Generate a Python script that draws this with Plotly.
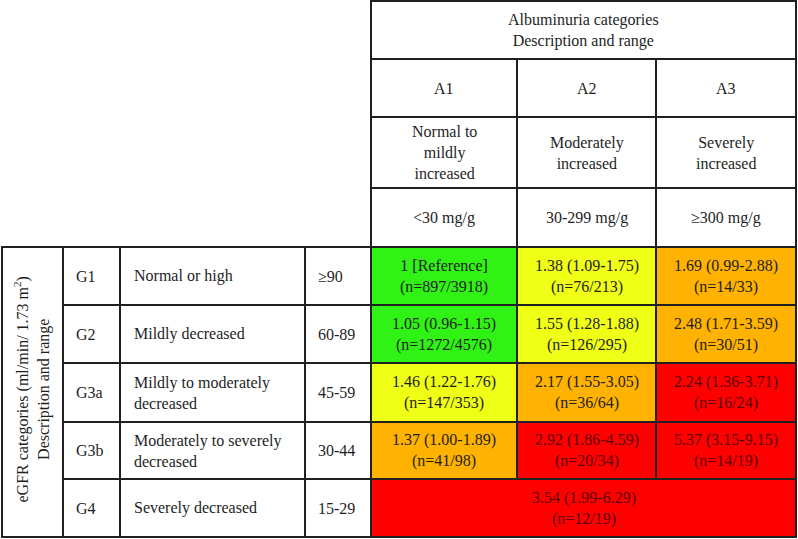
import plotly.graph_objects as go

# ---------------- data ----------------
egfr_codes = ["G1", "G2", "G3a", "G3b", "G4"]
egfr_desc = ["Normal or high", "Mildly decreased", "Mildly to moderately<br>decreased",
             "Moderately to severely<br>decreased", "Severely decreased"]
egfr_range = ["≥90", "60-89", "45-59", "30-44", "15-29"]

alb_codes = ["A1", "A2", "A3"]
alb_desc = ["Normal to<br>mildly<br>increased", "Moderately<br>increased", "Severely<br>increased"]
alb_range = ["<30 mg/g", "30-299 mg/g", "≥300 mg/g"]

# odds ratios, CI, events/totals per eGFR row (G4 is one merged cell)
or_est = [[1.00, 1.38, 1.69], [1.05, 1.55, 2.48], [1.46, 2.17, 2.24], [1.37, 2.92, 5.37], [3.54]]
ci_low = [[None, 1.09, 0.99], [0.96, 1.28, 1.71], [1.22, 1.55, 1.36], [1.00, 1.86, 3.15], [1.99]]
ci_high = [[None, 1.75, 2.88], [1.15, 1.88, 3.59], [1.76, 3.05, 3.71], [1.89, 4.59, 9.15], [6.29]]
events = [[897, 76, 14], [1272, 126, 30], [147, 36, 16], [41, 20, 14], [12]]
totals = [[3918, 213, 33], [4576, 295, 51], [353, 64, 24], [98, 34, 19], [19]]
risk = [["low", "moderate", "high"], ["low", "moderate", "high"],
        ["moderate", "high", "veryhigh"], ["high", "veryhigh", "veryhigh"], ["veryhigh"]]

header_title = "Albuminuria categories<br>Description and range"
side_title = "eGFR categories (ml/min/ 1.73 m<sup>2</sup>)<br>Description and range"

# ---------------- layout / style ----------------
W, H = 798, 539
XE = [2, 63, 120, 305, 371, 517, 656, 796]          # column edges
YH = [1, 59, 117, 188, 247]                           # header row edges
YD = [247, 305, 363, 422, 479, 537]                   # data row edges
FILL = {"low": "#30f214", "moderate": "#f0ff16", "high": "#ffb200", "veryhigh": "#ff0000"}
TXT = {"low": "#1e1e1e", "moderate": "#1e1e1e", "high": "#1e1e1e", "veryhigh": "#5a0000"}
LINE = dict(color="#202020", width=2)
FONT = "Liberation Serif, Times New Roman, serif"
FS = 16

shapes, annots = [], []


def rect(x0, y0, x1, y1, fill="white"):
    shapes.append(dict(type="rect", xref="x", yref="y", x0=x0, y0=y0, x1=x1, y1=y1,
                       fillcolor=fill, line=LINE, layer="below"))


def text(x, y, s, color="#1e1e1e", xanchor="center", align="center", angle=0):
    annots.append(dict(x=x, y=y, xref="x", yref="y", text=s, showarrow=False,
                       xanchor=xanchor, yanchor="middle", align=align, textangle=angle,
                       font=dict(family=FONT, size=FS, color=color)))


# header
rect(XE[4], YH[0], XE[7], YH[1])
text((XE[4] + XE[7]) / 2, (YH[0] + YH[1]) / 2, header_title)
for j in range(3):
    x0, x1 = XE[4 + j], XE[5 + j]
    xc = (x0 + x1) / 2
    for k, lab in enumerate([alb_codes[j], alb_desc[j], alb_range[j]]):
        rect(x0, YH[1 + k], x1, YH[2 + k])
        text(xc, (YH[1 + k] + YH[2 + k]) / 2, lab)

# side title
rect(XE[0], YD[0], XE[1], YD[-1])
text((XE[0] + XE[1]) / 2, (YD[0] + YD[-1]) / 2 - 2, side_title, angle=-90)

# rows
for i in range(len(egfr_codes)):
    y0, y1 = YD[i], YD[i + 1]
    yc = (y0 + y1) / 2
    rect(XE[1], y0, XE[2], y1)
    text(XE[1] + 11, yc, egfr_codes[i], xanchor="left", align="left")
    rect(XE[2], y0, XE[3], y1)
    text(XE[2] + 12, yc, egfr_desc[i], xanchor="left", align="left")
    rect(XE[3], y0, XE[4], y1)
    text(XE[3] + 11, yc, egfr_range[i], xanchor="left", align="left")
    ncell = len(or_est[i])
    for j in range(ncell):
        x0 = XE[4 + j]
        x1 = XE[5 + j] if ncell == 3 else XE[7]
        lvl = risk[i][j]
        rect(x0, y0, x1, y1, FILL[lvl])
        if ci_low[i][j] is None:
            l1 = f"{or_est[i][j]:g} [Reference]"
        else:
            l1 = f"{or_est[i][j]:.2f} ({ci_low[i][j]:.2f}-{ci_high[i][j]:.2f})"
        l2 = f"(n={events[i][j]}/{totals[i][j]})"
        text((x0 + x1) / 2, yc, l1 + "<br>" + l2, color=TXT[lvl])

fig = go.Figure()
fig.update_layout(
    width=W, height=H, margin=dict(l=0, r=0, t=0, b=0),
    paper_bgcolor="white", plot_bgcolor="white",
    xaxis=dict(range=[0, W], visible=False, fixedrange=True),
    yaxis=dict(range=[H, 0], visible=False, fixedrange=True),
    shapes=shapes, annotations=annots, showlegend=False,
)
fig.write_html("out.html", config={"displayModeBar": False},
               post_script="document.body.style.margin='0';document.body.style.overflow='hidden';")
